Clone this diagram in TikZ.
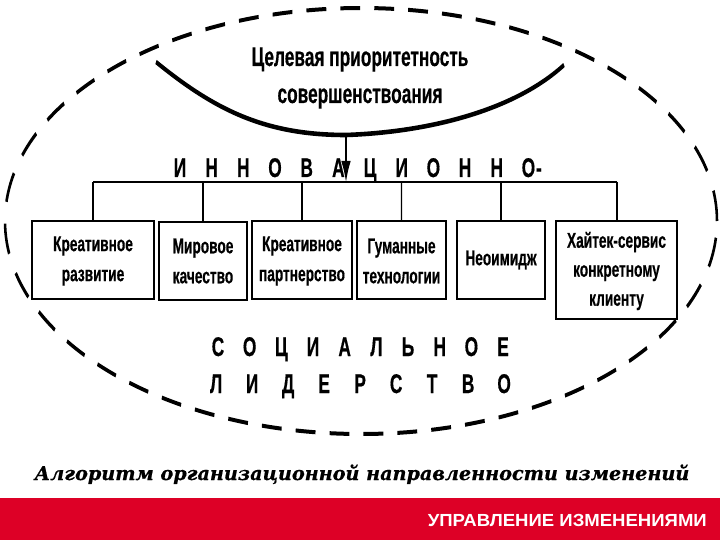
\documentclass[tikz,border=0pt]{standalone}
\usepackage{fontspec}
\setmainfont{Liberation Sans}
\newfontfamily\diagfont[FakeBold=0.6]{Liberation Sans Bold}
\newfontfamily\capfont[FakeStretch=1.01,FakeBold=0.6]{DejaVu Serif Bold Italic}
\newfontfamily\footfont[FakeStretch=1.06]{Liberation Sans Bold}
\newcommand{\spaced}[2]{\def\spw{#1}\spacedloop#2\relax}
\def\spacedloop#1{\ifx#1\relax\else\makebox[\spw pt]{#1}\expandafter\spacedloop\fi}
\usetikzlibrary{arrows.meta}
\definecolor{redbar}{RGB}{221,0,38}
\tikzset{
  box/.style={draw=black,line width=2.2pt,fill=white,inner sep=0pt},
  boxtext/.style={font=\diagfont\fontsize{21.4}{30}\selectfont,align=center,inner sep=0pt,text=black},
  sptext/.style={font=\diagfont\fontsize{27}{27}\selectfont,inner sep=0pt,anchor=base west,text=black},
  link/.style={line width=2pt,draw=black},
}
\begin{document}
\begin{tikzpicture}[x=1pt,y=-1pt]
\useasboundingbox (0,0) rectangle (720,540);
\fill[white] (0,0) rectangle (720,540);
% the diagram is squeezed sideways, with its strokes
\begin{scope}[transform canvas={xscale=0.64},x=1.5625pt,y=-1pt]
\draw[line width=4pt,dash pattern=on 31pt off 22pt] (361,221) ellipse [x radius=556.25pt,y radius=213pt];
\draw[line width=4.6pt] (156,62) .. controls (215,110) and (265,135) .. (346,135) coordinate (arcb) .. controls (430,132) and (515,110) .. (564,65);
\node[boxtext,font=\diagfont\fontsize{27}{37}\selectfont] (goal) at (360,78) {Целевая приоритетность\\совершенствоания};
\node[sptext] (t1) at (164,177) {\spaced{49.5}{ИННОВАЦИОННО}\hspace{-13pt}-};
\node[sptext] (t2) at (202,356) {\spaced{49.5}{СОЦИАЛЬНОЕ}};
\node[sptext] (t3) at (198,393) {\spaced{56.25}{ЛИДЕРСТВО}};
\node[box,minimum width=190.6pt,minimum height=78pt] (b1) at (93,260) {};
\node[box,minimum width=137.5pt,minimum height=78pt] (b2) at (203,261) {};
\node[box,minimum width=156.25pt,minimum height=78pt] (b3) at (302,260) {};
\node[box,minimum width=139pt,minimum height=78pt] (b4) at (401.5,260) {};
\node[box,minimum width=137.5pt,minimum height=78pt] (b5) at (501,260) {};
\node[box,minimum width=189pt,minimum height=98pt] (b6) at (616.5,270) {};
\node[boxtext] (l1) at (93,261) {Креативное\\развитие};
\node[boxtext] (l2) at (203,261) {Мировое\\качество};
\node[boxtext] (l3) at (302,261) {Креативное\\партнерство};
\node[boxtext] (l4) at (401.5,261) {Гуманные\\технологии};
\node[boxtext] (l5) at (501,260) {Неоимидж};
\node[boxtext,font=\diagfont\fontsize{21.4}{29}\selectfont] (l6) at (616.5,271) {Хайтек-сервис\\конкретному\\клиенту};
\coordinate (busl) at (93,182);
\coordinate (busr) at (617,182);
\coordinate (busm) at (346,182);
\draw[line width=2pt] (busl) -- (busr);
\draw[link,-{Latex[length=21pt,width=15pt]}] (arcb) -- (busm);
\draw[link] (busl) -- (b1.north);
\draw[link] (203,182) -- (b2.north);
\draw[link] (302,182) -- (b3.north);
\draw[link] (401.6,182) -- (b4.north);
\draw[link] (501,182) -- (b5.north);
\draw[link] (busr) -- (b6.north -| busr);
\end{scope}
\node[font=\capfont\fontsize{19}{19}\selectfont,inner sep=0pt,anchor=base] (cap) at (362,480) {Алгоритм организационной направленности изменений};
\fill[redbar] (0,498) rectangle (720,540);
\node[font=\footfont\fontsize{17.5}{17.5}\selectfont,text=white,inner sep=0pt,anchor=base east] (foot) at (707,526) {УПРАВЛЕНИЕ ИЗМЕНЕНИЯМИ};
\end{tikzpicture}
\end{document}
